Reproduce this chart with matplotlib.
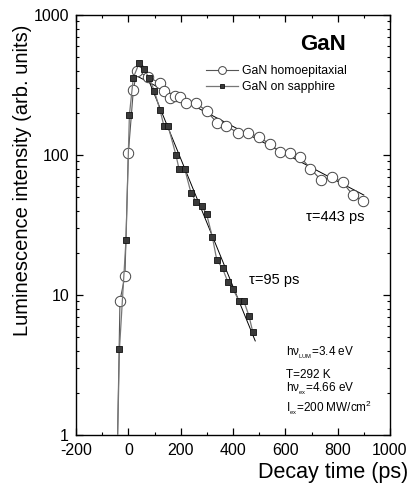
import numpy as np
import matplotlib
matplotlib.use('Agg')
import matplotlib.pyplot as plt
from matplotlib.ticker import FixedLocator, LogLocator, NullFormatter

plt.rcParams['font.family'] = ['Liberation Sans', 'DejaVu Sans']
plt.rcParams['mathtext.fontset'] = 'custom'
plt.rcParams['mathtext.rm'] = 'Liberation Sans'
plt.rcParams['mathtext.it'] = 'Liberation Sans'
plt.rcParams['axes.unicode_minus'] = False

# GaN homoepitaxial (open circles)
t_homo = [-42, -32, -13, 0, 19, 32, 76, 121, 136, 159, 178, 197, 220, 258, 299, 339,
          375, 419, 457, 498, 540, 578, 616, 657, 696, 737, 777, 819, 857, 895]
i_homo = [0.8, 9.1, 13.7, 103, 290, 398, 362, 325, 288, 254, 264, 258, 236, 236, 206, 170,
          161, 144, 144, 135, 120, 106, 103, 97, 80, 66, 70, 64, 52, 47]

# GaN on sapphire (filled squares)
t_sap = [-42, -34, -9, 4, 19, 41, 61, 80, 99, 121, 136, 152, 182, 194, 216, 239, 260,
         281, 299, 321, 338, 360, 381, 400, 423, 441, 461, 476]
i_sap = [0.8, 4.1, 24.7, 193, 357, 452, 409, 353, 288, 210, 161, 161, 100, 79, 79, 54, 46,
         43, 38, 26, 17.8, 15.5, 12.3, 11, 9.1, 9.1, 7.1, 5.4]

# exponential fits
tau_homo, amp_homo, fit_homo_range = 443, 395, (32, 900)
tau_sap, amp_sap, fit_sap_range = 95, 775, (55, 485)

fig = plt.figure(figsize=(4.12, 4.86), dpi=100)
ax = fig.add_axes([0.1845, 0.1049, 0.7621, 0.8641])

ax.plot(t_homo, i_homo, color='#555555', lw=0.8, marker='o', ms=7.5,
        mfc='white', mec='#444444', mew=0.7, label='GaN homoepitaxial', zorder=3)
ax.plot(t_sap, i_sap, color='#777777', lw=0.9, marker='s', ms=4.8,
        mfc='#3a3a3a', mec='#111111', mew=0.6, label='GaN on sapphire', zorder=4)

tf = np.linspace(*fit_homo_range, 50)
ax.plot(tf, amp_homo * np.exp(-tf / tau_homo), color='black', lw=0.7, zorder=2)
tf = np.linspace(*fit_sap_range, 50)
ax.plot(tf, amp_sap * np.exp(-tf / tau_sap), color='black', lw=0.7, zorder=2)

ax.set_yscale('log')
ax.set_xlim(-200, 1000)
ax.set_ylim(1, 1000)
ax.xaxis.set_major_locator(FixedLocator([-200, 0, 200, 400, 600, 800, 1000]))
ax.xaxis.set_minor_locator(FixedLocator([-100, 100, 300, 500, 700, 900]))
ax.yaxis.set_major_locator(FixedLocator([1, 10, 100, 1000]))
ax.yaxis.set_minor_locator(LogLocator(base=10, subs=np.arange(2, 10)))
ax.yaxis.set_minor_formatter(NullFormatter())
ax.set_yticklabels(['1', '10', '100', '1000'])
ax.tick_params(which='both', direction='in', top=True, right=True, labelsize=11.5)
ax.tick_params(which='major', length=5, width=0.9)
ax.tick_params(which='minor', length=2.5, width=0.8)
ax.tick_params(axis='x', pad=6)
ax.tick_params(axis='y', pad=5)
for s in ax.spines.values():
    s.set_linewidth(1.0)

fig.text(0.99, 0.028, 'Decay time (ps)', ha='right', va='center', fontsize=15.5)
fig.text(0.055, 0.63, 'Luminescence intensity (arb. units)', rotation=90,
         ha='center', va='center', fontsize=14.5)

ax.text(0.787, 0.929, 'GaN', transform=ax.transAxes, ha='center', va='center',
        fontsize=16, fontweight='bold')
ax.text(680, 36, 'τ=443 ps', ha='left', va='center', fontsize=10.5)
ax.text(463, 12.8, 'τ=95 ps', ha='left', va='center', fontsize=10.5)

ax.text(603, 3.85, r'hν$_{_{\mathregular{LUM}}}$=3.4 eV', fontsize=8.5, va='center')
ax.text(603, 2.7, 'T=292 K', fontsize=8.5, va='center')
ax.text(603, 2.13, r'hν$_{_{\mathregular{ex}}}$=4.66 eV', fontsize=8.5, va='center')
ax.text(603, 1.56, r'I$_{_{\mathregular{ex}}}$=200 MW/cm$^{\mathregular{2}}$', fontsize=8.5, va='center')

ax.legend(loc='upper left', bbox_to_anchor=(0.395, 0.895), frameon=False,
          fontsize=8.8, handlelength=2.6, handletextpad=0.3, labelspacing=0.3,
          borderpad=0, markerscale=0.75)

fig.savefig('out.png', dpi=100)
